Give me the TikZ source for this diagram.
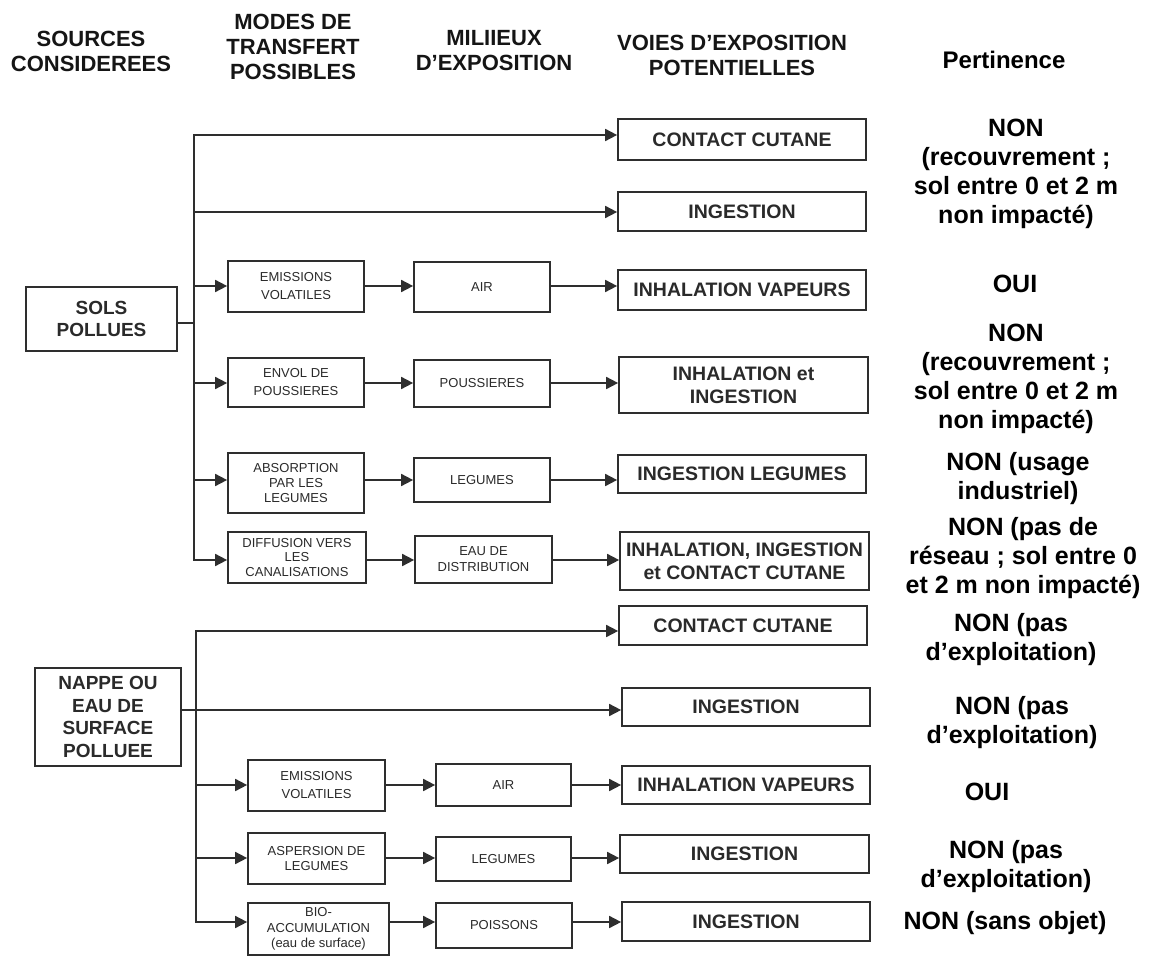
\documentclass[tikz,border=0pt]{standalone}
\usepackage{fontspec}
\setmainfont{Liberation Sans}
\usetikzlibrary{arrows.meta}
\definecolor{linec}{HTML}{2E2E2E}
\definecolor{boxtxt}{HTML}{2A2A2A}
\definecolor{headc}{HTML}{151515}
\begin{document}
\begin{tikzpicture}[x=1pt,y=-1pt,
 ln/.style={line width=1.7pt, draw=linec},
 arr/.style={ln, -{Triangle[length=12pt,width=12pt]}},
 box/.style={draw=linec, line width=1.7pt, inner sep=0pt, align=center, text=boxtxt},
 src/.style={box, font=\bfseries\fontsize{19}{22.5}\selectfont},
 mode/.style={box, font=\fontsize{13}{15}\selectfont},
 voie/.style={box, font=\bfseries\fontsize{19.5}{23}\selectfont},
 head/.style={align=center, font=\bfseries\fontsize{22}{25}\selectfont, text=headc},
 pert/.style={align=center, font=\bfseries\fontsize{25}{29}\selectfont},
]
\fill[white] (0,0) rectangle (1153,957);
\useasboundingbox (0,0) rectangle (1153,957);

% headers
\node[head] (h1) at (91,51) {SOURCES\\CONSIDEREES};
\node[head] (h2) at (293,47) {MODES DE\\TRANSFERT\\POSSIBLES};
\node[head] (h3) at (494,51) {MILIIEUX\\D’EXPOSITION};
\node[head] (h4) at (732,55) {VOIES D’EXPOSITION\\POTENTIELLES};
\node[head, font=\bfseries\fontsize{24}{28}\selectfont, text=black] (h5) at (1004,60) {Pertinence};

% group 1 : sols
\node[src, minimum width=151pt, minimum height=64pt] (sols) at (101.5,319) {SOLS\\POLLUES};
\node[voie, minimum width=248pt, minimum height=41pt] (cc1) at (742,139.5) {CONTACT CUTANE};
\node[voie, minimum width=248pt, minimum height=39pt] (ing1) at (742,211.5) {INGESTION};
\node[mode, minimum width=136pt, minimum height=51pt, font=\fontsize{13}{18}\selectfont] (em1) at (296,286.5) {EMISSIONS\\VOLATILES};
\node[mode, minimum width=136pt, minimum height=50pt] (air1) at (482,287) {AIR};
\node[voie, minimum width=248pt, minimum height=40pt] (inh1) at (742,290) {INHALATION VAPEURS};
\node[mode, minimum width=136pt, minimum height=49pt, font=\fontsize{13}{18}\selectfont] (env) at (296,382.5) {ENVOL DE\\POUSSIERES};
\node[mode, minimum width=136pt, minimum height=47pt] (pou) at (482,383.5) {POUSSIERES};
\node[voie, minimum width=249pt, minimum height=56pt] (inhing) at (743.5,385) {INHALATION et\\INGESTION};
\node[mode, minimum width=136pt, minimum height=60pt] (abs) at (296,483) {ABSORPTION\\PAR LES\\LEGUMES};
\node[mode, minimum width=136pt, minimum height=44pt] (leg1) at (482,480) {LEGUMES};
\node[voie, minimum width=248pt, minimum height=38pt] (ingleg) at (742,474) {INGESTION LEGUMES};
\node[mode, minimum width=138pt, minimum height=51pt, font=\fontsize{13}{14.5}\selectfont] (dif) at (297,557.5) {DIFFUSION VERS\\LES\\CANALISATIONS};
\node[mode, minimum width=137pt, minimum height=47pt, font=\fontsize{13}{16}\selectfont] (eau) at (483.5,559.5) {EAU DE\\DISTRIBUTION};
\node[voie, minimum width=249pt, minimum height=58pt] (inhall) at (744.5,561) {INHALATION, INGESTION\\et CONTACT CUTANE};

\coordinate (s1) at (194,135);
\coordinate (s2) at (194,212);
\coordinate (s3) at (194,286);
\coordinate (s4) at (194,383);
\coordinate (s5) at (194,480);
\coordinate (s6) at (194,560);
\coordinate (j1) at (194,323);

\draw[ln] (sols.east |- j1) -- (j1);
\draw[arr] (s6) -- (s1) -- (cc1.west |- s1);
\draw[arr] (s1) -- (s6) -- (dif.west |- s6);
\draw[arr] (s2) -- (ing1.west |- s2);
\draw[arr] (s3) -- (em1.west |- s3);
\draw[arr] (em1.east |- s3) -- (air1.west |- s3);
\draw[arr] (air1.east |- s3) -- (inh1.west |- s3);
\draw[arr] (s4) -- (env.west |- s4);
\draw[arr] (env.east |- s4) -- (pou.west |- s4);
\draw[arr] (pou.east |- s4) -- (inhing.west |- s4);
\draw[arr] (s5) -- (abs.west |- s5);
\draw[arr] (abs.east |- s5) -- (leg1.west |- s5);
\draw[arr] (leg1.east |- s5) -- (ingleg.west |- s5);
\draw[arr] (dif.east |- s6) -- (eau.west |- s6);
\draw[arr] (eau.east |- s6) -- (inhall.west |- s6);

% group 2 : nappe
\node[src, minimum width=146pt, minimum height=98pt] (nappe) at (108,717) {NAPPE OU\\EAU DE\\SURFACE\\POLLUEE};
\node[voie, minimum width=248pt, minimum height=39pt] (cc2) at (743,625.5) {CONTACT CUTANE};
\node[voie, minimum width=248pt, minimum height=38pt] (ing2) at (746,707) {INGESTION};
\node[mode, minimum width=137pt, minimum height=51pt, font=\fontsize{13}{18}\selectfont] (em2) at (316.5,785.5) {EMISSIONS\\VOLATILES};
\node[mode, minimum width=135pt, minimum height=42pt] (air2) at (503.5,785) {AIR};
\node[voie, minimum width=248pt, minimum height=38pt] (inh2) at (746,785) {INHALATION VAPEURS};
\node[mode, minimum width=137pt, minimum height=51pt, font=\fontsize{13}{14.5}\selectfont] (asp) at (316.5,858.5) {ASPERSION DE\\LEGUMES};
\node[mode, minimum width=135pt, minimum height=44pt] (leg2) at (503.5,859) {LEGUMES};
\node[voie, minimum width=249pt, minimum height=38pt] (ing3) at (744.5,854) {INGESTION};
\node[mode, minimum width=141pt, minimum height=52pt, font=\fontsize{13}{15.5}\selectfont] (bio) at (318.5,929) {BIO-\\ACCUMULATION\\(eau de surface)};
\node[mode, minimum width=136pt, minimum height=45pt] (poi) at (504,925.5) {POISSONS};
\node[voie, minimum width=248pt, minimum height=39pt] (ing4) at (746,921.5) {INGESTION};

\coordinate (t1) at (196,631);
\coordinate (t2) at (196,710);
\coordinate (t3) at (196,785);
\coordinate (t4) at (196,858);
\coordinate (t5) at (196,922);

\draw[arr] (t5) -- (t1) -- (cc2.west |- t1);
\draw[arr] (t1) -- (t5) -- (bio.west |- t5);
\draw[arr] (nappe.east |- t2) -- (ing2.west |- t2);
\draw[arr] (t3) -- (em2.west |- t3);
\draw[arr] (em2.east |- t3) -- (air2.west |- t3);
\draw[arr] (air2.east |- t3) -- (inh2.west |- t3);
\draw[arr] (t4) -- (asp.west |- t4);
\draw[arr] (asp.east |- t4) -- (leg2.west |- t4);
\draw[arr] (leg2.east |- t4) -- (ing3.west |- t4);
\draw[arr] (bio.east |- t5) -- (poi.west |- t5);
\draw[arr] (poi.east |- t5) -- (ing4.west |- t5);

% pertinence
\node[pert] (p1) at (1016,174) {NON\\(recouvrement ;\\sol entre 0 et 2 m\\non impacté)};
\node[pert] (p2) at (1015,284) {OUI};
\node[pert] (p3) at (1016,379) {NON\\(recouvrement ;\\sol entre 0 et 2 m\\non impacté)};
\node[pert] (p4) at (1018,479) {NON (usage\\industriel)};
\node[pert] (p5) at (1023,558) {NON (pas de\\réseau ; sol entre 0\\et 2 m non impacté)};
\node[pert] (p6) at (1011,640) {NON (pas\\d’exploitation)};
\node[pert] (p7) at (1012,723) {NON (pas\\d’exploitation)};
\node[pert] (p8) at (987,792) {OUI};
\node[pert] (p9) at (1006,867) {NON (pas\\d’exploitation)};
\node[pert] (p10) at (1005,923) {NON (sans objet)};
\end{tikzpicture}
\end{document}
